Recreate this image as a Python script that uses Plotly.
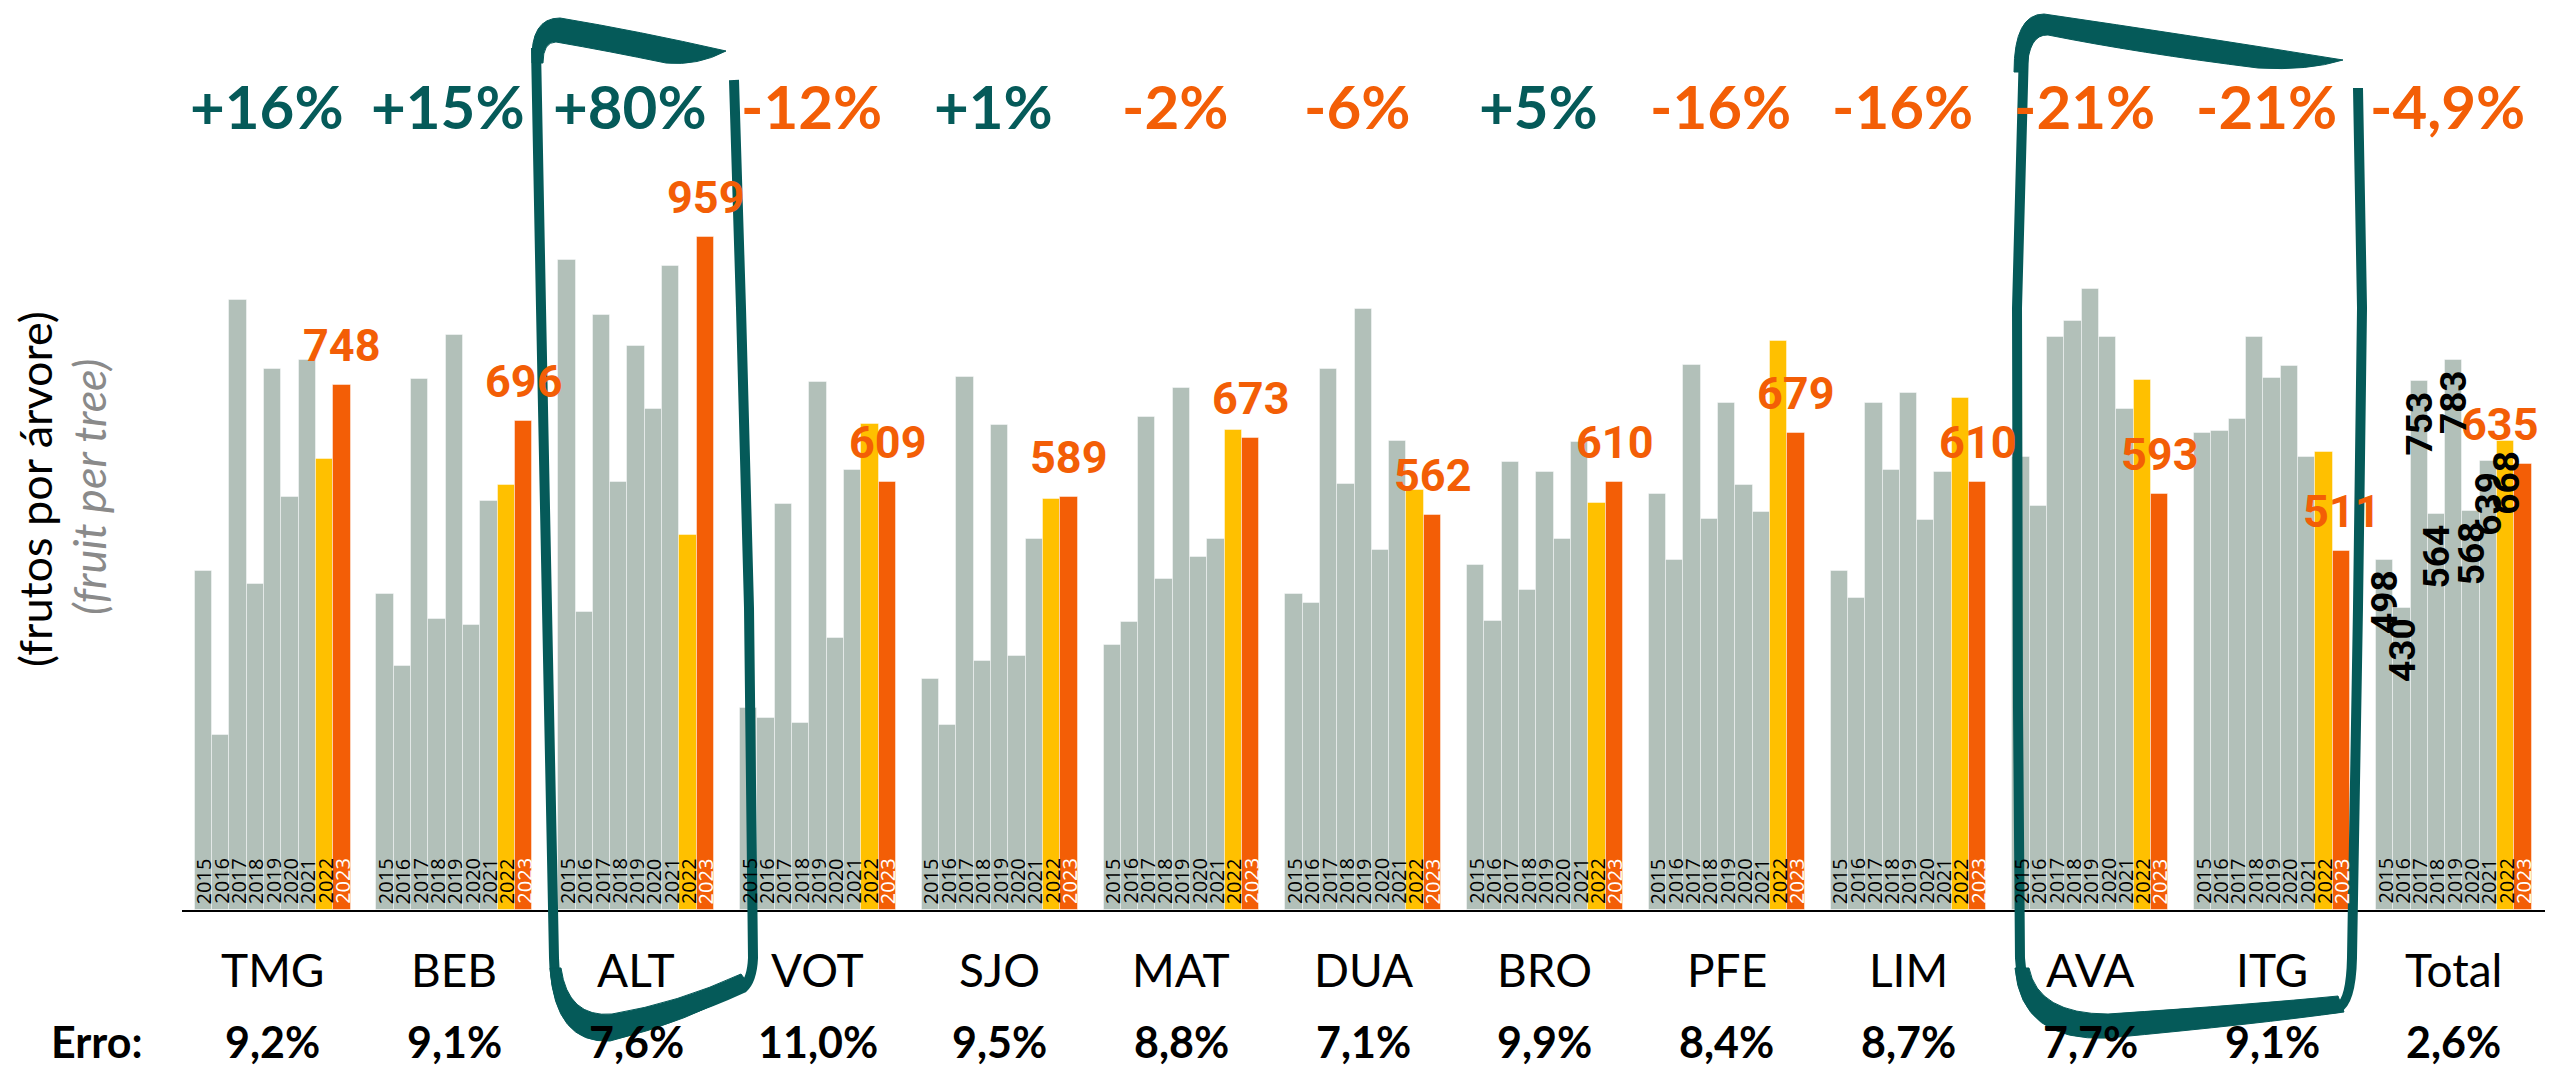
import plotly.graph_objects as go

# ---------------- data ----------------
sites = ["TMG", "BEB", "ALT", "VOT", "SJO", "MAT", "DUA", "BRO", "PFE", "LIM", "AVA", "ITG", "Total"]
years = ["2015", "2016", "2017", "2018", "2019", "2020", "2021", "2022", "2023"]

v2015 = [483, 450, 926, 288, 329, 377, 450, 492, 592, 483, 646, 680, 498]
v2016 = [250, 348, 424, 273, 263, 410, 437, 411, 499, 444, 575, 682, 430]
v2017 = [869, 756, 847, 578, 759, 702, 770, 638, 777, 722, 816, 699, 753]
v2018 = [465, 415, 609, 266, 354, 471, 607, 456, 557, 627, 839, 816, 564]
v2019 = [771, 819, 803, 752, 691, 744, 856, 624, 722, 737, 884, 758, 783]
v2020 = [588, 406, 713, 387, 362, 503, 513, 529, 606, 556, 816, 775, 568]
v2021 = [784, 583, 918, 627, 529, 529, 668, 666, 567, 624, 714, 646, 639]
v2022 = [642, 605, 534, 693, 586, 684, 599, 580, 810, 729, 755, 652, 668]
v2023 = [748, 696, 959, 609, 589, 673, 562, 610, 679, 610, 593, 511, 635]

change_labels = ["+16%", "+15%", "+80%", "-12%", "+1%", "-2%", "-6%", "+5%",
                 "-16%", "-16%", "-21%", "-21%", "-4,9%"]
error_labels = ["9,2%", "9,1%", "7,6%", "11,0%", "9,5%", "8,8%", "7,1%",
                "9,9%", "8,4%", "8,7%", "7,7%", "9,1%", "2,6%"]

series = [v2015, v2016, v2017, v2018, v2019, v2020, v2021, v2022, v2023]

# ---------------- style / layout ----------------
GRAY = "#B2C0B9"
YELLOW = "#FFC000"
ORANGE = "#F35E06"
TEAL = "#055A59"
W, H = 2554, 1069
ML, MR, MT, MB = 174, 17, 200, 167
PW, PH = W - ML - MR, H - MT - MB
STEP = 10.5           # group pitch in bar widths
NY = len(years)
NS = len(sites)
NUM_FONT = "Liberation Sans Narrow, Roboto"


def xpos(g, i):
    return g * STEP + i


def px_x(px):
    return (px - ML) / PW


def px_y(py):
    return (H - MB - py) / PH


fig = go.Figure()

sep = dict(color="rgba(255,255,255,0.45)", width=1)
gx, gy = [], []
for i in range(NY - 2):
    for g in range(NS):
        gx.append(xpos(g, i))
        gy.append(series[i][g])
fig.add_trace(go.Bar(x=gx, y=gy, width=[1] * len(gx), marker=dict(color=GRAY, line=sep),
                     showlegend=False, hoverinfo="skip"))
fig.add_trace(go.Bar(x=[xpos(g, NY - 2) for g in range(NS)], y=v2022,
                     width=[1] * NS, marker=dict(color=YELLOW, line=sep),
                     showlegend=False, hoverinfo="skip"))
fig.add_trace(go.Bar(x=[xpos(g, NY - 1) for g in range(NS)], y=v2023,
                     width=[1] * NS, marker=dict(color=ORANGE, line=sep),
                     showlegend=False, hoverinfo="skip"))

ann = []
# year labels inside bars
for g in range(NS):
    for i, yr in enumerate(years):
        ann.append(dict(x=xpos(g, i), y=0, xref="x", yref="y", text=yr, showarrow=False,
                        textangle=-90, xanchor="center", yanchor="bottom", yshift=4,
                        font=dict(family="Open Sans", size=20,
                                  color="white" if i == NY - 1 else "black")))
# 2023 value labels
for g in range(NS):
    ann.append(dict(x=xpos(g, NY - 1), y=v2023[g], xref="x", yref="y", text=str(v2023[g]),
                    showarrow=False, xanchor="center", yanchor="bottom", yshift=11,
                    xshift=-24 if g == NS - 1 else 0,
                    font=dict(family=NUM_FONT, size=45, color=ORANGE, weight="bold")))
# Total group: all previous-year values, rotated
tg = NS - 1
for i in range(NY - 1):
    ann.append(dict(x=xpos(tg, i), y=series[i][tg], xref="x", yref="y",
                    text=str(series[i][tg]), showarrow=False, textangle=-90,
                    xanchor="center", yanchor="top", yshift=-8,
                    font=dict(family=NUM_FONT, size=37, color="black", weight="bold")))
# percent changes, site names, errors
for g in range(NS):
    gc = xpos(g, (NY - 1) / 2)
    lab = change_labels[g]
    ann.append(dict(x=gc, y=px_y(98), xref="x", yref="paper", text=lab, showarrow=False,
                    xanchor="center", yanchor="middle", xshift=-6,
                    font=dict(family="Lato", size=60, weight="bold",
                              color=TEAL if lab.startswith("+") else ORANGE)))
    ann.append(dict(x=gc, y=px_y(962), xref="x", yref="paper", text=sites[g], showarrow=False,
                    xanchor="center", yanchor="middle",
                    font=dict(family="Lato", size=46, color="black")))
    ann.append(dict(x=gc, y=px_y(1033), xref="x", yref="paper", text=error_labels[g],
                    showarrow=False, xanchor="center", yanchor="middle",
                    font=dict(family="Lato", size=43, color="black", weight="bold")))
ann.append(dict(x=px_x(88), y=px_y(1033), xref="paper", yref="paper", text="Erro:",
                showarrow=False, xanchor="center", yanchor="middle",
                font=dict(family="Lato", size=43, color="black", weight="bold")))
# y-axis title (two lines)
ann.append(dict(x=px_x(27), y=px_y(481), xref="paper", yref="paper", text="(frutos por árvore)",
                showarrow=False, textangle=-90, xanchor="center", yanchor="middle",
                font=dict(family="Lato", size=45, color="black")))
ann.append(dict(x=px_x(81), y=px_y(479), xref="paper", yref="paper", text="<i>(fruit per tree)</i>",
                showarrow=False, textangle=-90, xanchor="center", yanchor="middle",
                font=dict(family="Lato", size=45, color="#8A8A8A")))


# ---------------- hand-drawn highlight brackets ----------------
def path(cmds):
    out = []
    for c in cmds:
        if isinstance(c, str):
            out.append(c)
        else:
            out.append(f"{px_x(c[0]):.5f},{px_y(c[1]):.5f}")
    return " ".join(out)


shapes = []
outline1 = ["M", (528, 40), "L", (533, 300), "L", (540, 650), "L", (546, 950),
            "Q", (548, 1025), (600, 1024), "Q", (670, 1010), (735, 980),
            "Q", (744, 972), (745, 950), "L", (741, 600), "L", (733, 300), "L", (726, 72)]
top1 = ["M", (524, 55), "Q", (522, 10), (552, 10), "Q", (630, 23), (718, 43),
        "Q", (690, 58), (658, 55), "Q", (600, 43), (548, 34), "Q", (535, 34), (535, 55), "Z"]
bot1 = ["M", (542, 960), "Q", (547, 1036), (602, 1033), "Q", (680, 1014), (742, 978),
        "L", (733, 966), "Q", (670, 995), (604, 1006), "Q", (560, 1010), (553, 960), "Z"]
outline2 = ["M", (2016, 40), "L", (2009, 300), "L", (2010, 700), "L", (2012, 950),
            "Q", (2016, 1020), (2095, 1020), "Q", (2250, 1008), (2330, 1000),
            "Q", (2343, 994), (2344, 950), "L", (2350, 600), "L", (2354, 300), "L", (2350, 80)]
top2 = ["M", (2006, 64), "Q", (2006, 6), (2036, 6), "Q", (2180, 27), (2335, 52),
        "Q", (2300, 63), (2250, 60), "Q", (2130, 45), (2040, 27), "Q", (2020, 26), (2019, 64), "Z"]
bot2 = ["M", (2007, 960), "Q", (2013, 1034), (2100, 1030), "Q", (2250, 1016), (2336, 1004),
        "L", (2330, 988), "Q", (2250, 996), (2100, 1006), "Q", (2030, 1006), (2021, 960), "Z"]
for p in (outline1, outline2):
    shapes.append(dict(type="path", xref="paper", yref="paper", path=path(p),
                       line=dict(color=TEAL, width=10), fillcolor="rgba(0,0,0,0)", layer="above"))
for p in (top1, bot1, top2, bot2):
    shapes.append(dict(type="path", xref="paper", yref="paper", path=path(p),
                       line=dict(color=TEAL, width=1), fillcolor=TEAL, layer="above"))

fig.update_layout(
    width=W, height=H,
    margin=dict(l=ML, r=MR, t=MT, b=MB, autoexpand=False),
    paper_bgcolor="white", plot_bgcolor="white",
    barmode="overlay", bargap=0,
    showlegend=False,
    xaxis=dict(range=[-1.235, 135.27], showgrid=False, zeroline=False, showticklabels=False,
               ticks="", showline=True, linecolor="black", linewidth=2, fixedrange=True),
    yaxis=dict(range=[0, 1000], showgrid=False, zeroline=False, showticklabels=False,
               ticks="", showline=False, fixedrange=True),
    annotations=ann,
    shapes=shapes,
)

fig.write_html("out.html")
